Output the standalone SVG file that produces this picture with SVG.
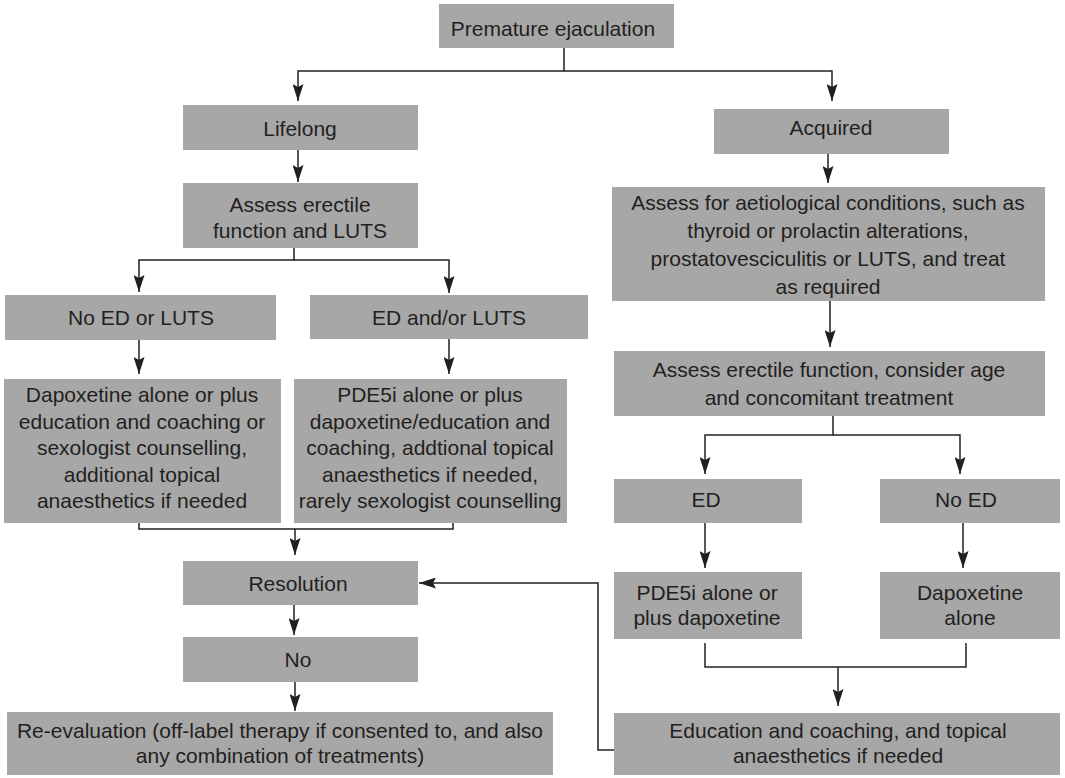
<svg xmlns="http://www.w3.org/2000/svg" width="1065" height="778" viewBox="0 0 1065 778">
  <style>
    .box { fill: #a7a7a7; stroke: none; }
    .lbl { font-family: "Liberation Sans", Arial, sans-serif; font-size: 21px; fill: #231f20; text-anchor: middle; }
    .edge { fill: none; stroke: #231f20; stroke-width: 1.5; }
  </style>
  <defs>
    <marker id="arrow" viewBox="0 0 17 11" refX="17" refY="5.5" markerWidth="17" markerHeight="11" markerUnits="userSpaceOnUse" orient="auto">
      <path d="M17,5.5 L0,0 L3,5.5 L0,11 Z" fill="#231f20"/>
    </marker>
  </defs>
  <rect width="1065" height="778" fill="#ffffff"/>

  <!-- connectors -->
  <g id="connectors">
    <path class="edge" d="M564,48 V71 H298 V101" marker-end="url(#arrow)"/>
    <path class="edge" d="M564,71 H832 V101" marker-end="url(#arrow)"/>
    <path class="edge" d="M298,150 V182" marker-end="url(#arrow)"/>
    <path class="edge" d="M294,248 V260 H139 V292" marker-end="url(#arrow)"/>
    <path class="edge" d="M294,260 H449 V293" marker-end="url(#arrow)"/>
    <path class="edge" d="M139,340 V374" marker-end="url(#arrow)"/>
    <path class="edge" d="M449,339 V374" marker-end="url(#arrow)"/>
    <path class="edge" d="M139,523 V529 H453 V523"/>
    <path class="edge" d="M295,529 V555" marker-end="url(#arrow)"/>
    <path class="edge" d="M294,605 V635" marker-end="url(#arrow)"/>
    <path class="edge" d="M295,682 V711" marker-end="url(#arrow)"/>
    <path class="edge" d="M828,154 V183" marker-end="url(#arrow)"/>
    <path class="edge" d="M830,301 V347" marker-end="url(#arrow)"/>
    <path class="edge" d="M833,416 V435 H705 V474" marker-end="url(#arrow)"/>
    <path class="edge" d="M833,435 H960 V474" marker-end="url(#arrow)"/>
    <path class="edge" d="M705,523 V568" marker-end="url(#arrow)"/>
    <path class="edge" d="M963,523 V568" marker-end="url(#arrow)"/>
    <path class="edge" d="M705,643 V667 H966 V643"/>
    <path class="edge" d="M838,667 V706" marker-end="url(#arrow)"/>
    <path class="edge" d="M614,750 H598 V583 H419" marker-end="url(#arrow)"/>
  </g>

  <!-- nodes -->
  <g id="premature">
    <rect class="box" x="439" y="4" width="235" height="44"/>
    <text class="lbl" x="553" y="36">Premature ejaculation</text>
  </g>
  <g id="lifelong">
    <rect class="box" x="183" y="105" width="235" height="45"/>
    <text class="lbl" x="300" y="136">Lifelong</text>
  </g>
  <g id="acquired">
    <rect class="box" x="714" y="109" width="235" height="45"/>
    <text class="lbl" x="831" y="135">Acquired</text>
  </g>
  <g id="assess-ef-luts">
    <rect class="box" x="183" y="183" width="235" height="65"/>
    <text class="lbl" x="300" y="212">Assess erectile</text>
    <text class="lbl" x="300" y="238">function and LUTS</text>
  </g>
  <g id="assess-aetiology">
    <rect class="box" x="612" y="187" width="433" height="114"/>
    <text class="lbl" x="828" y="210">Assess for aetiological conditions, such as</text>
    <text class="lbl" x="828" y="238">thyroid or prolactin alterations,</text>
    <text class="lbl" x="828" y="266">prostatovesciculitis or LUTS, and treat</text>
    <text class="lbl" x="828" y="294">as required</text>
  </g>
  <g id="no-ed-luts">
    <rect class="box" x="5" y="295" width="271" height="45"/>
    <text class="lbl" x="141" y="325">No ED or LUTS</text>
  </g>
  <g id="ed-luts">
    <rect class="box" x="310" y="295" width="278" height="44"/>
    <text class="lbl" x="449" y="325">ED and/or LUTS</text>
  </g>
  <g id="assess-ef-age">
    <rect class="box" x="614" y="351" width="431" height="65"/>
    <text class="lbl" x="829" y="377">Assess erectile function, consider age</text>
    <text class="lbl" x="829" y="405">and concomitant treatment</text>
  </g>
  <g id="dapoxetine-lifelong">
    <rect class="box" x="4" y="379" width="277" height="144"/>
    <text class="lbl" x="142" y="402">Dapoxetine alone or plus</text>
    <text class="lbl" x="142" y="428.5">education and coaching or</text>
    <text class="lbl" x="142" y="455">sexologist counselling,</text>
    <text class="lbl" x="142" y="481.5">additional topical</text>
    <text class="lbl" x="142" y="508">anaesthetics if needed</text>
  </g>
  <g id="pde5i-lifelong">
    <rect class="box" x="294" y="379" width="273" height="144"/>
    <text class="lbl" x="430" y="402">PDE5i alone or plus</text>
    <text class="lbl" x="430" y="428.5">dapoxetine/education and</text>
    <text class="lbl" x="430" y="455">coaching, addtional topical</text>
    <text class="lbl" x="430" y="481.5">anaesthetics if needed,</text>
    <text class="lbl" x="430" y="508">rarely sexologist counselling</text>
  </g>
  <g id="ed">
    <rect class="box" x="614" y="479" width="188" height="44"/>
    <text class="lbl" x="706" y="507">ED</text>
  </g>
  <g id="no-ed">
    <rect class="box" x="880" y="479" width="180" height="44"/>
    <text class="lbl" x="966" y="507">No ED</text>
  </g>
  <g id="resolution">
    <rect class="box" x="183" y="561" width="235" height="44"/>
    <text class="lbl" x="298" y="591">Resolution</text>
  </g>
  <g id="pde5i-acquired">
    <rect class="box" x="614" y="572" width="188" height="67"/>
    <text class="lbl" x="707" y="600">PDE5i alone or</text>
    <text class="lbl" x="707" y="625">plus dapoxetine</text>
  </g>
  <g id="dapoxetine-acquired">
    <rect class="box" x="880" y="572" width="180" height="67"/>
    <text class="lbl" x="970" y="600">Dapoxetine</text>
    <text class="lbl" x="970" y="625">alone</text>
  </g>
  <g id="no">
    <rect class="box" x="183" y="637" width="235" height="45"/>
    <text class="lbl" x="298" y="667">No</text>
  </g>
  <g id="re-evaluation">
    <rect class="box" x="7" y="712" width="546" height="63"/>
    <text class="lbl" x="280" y="738">Re-evaluation (off-label therapy if consented to, and also</text>
    <text class="lbl" x="280" y="763">any combination of treatments)</text>
  </g>
  <g id="education">
    <rect class="box" x="614" y="713" width="446" height="62"/>
    <text class="lbl" x="838" y="738">Education and coaching, and topical</text>
    <text class="lbl" x="838" y="763">anaesthetics if needed</text>
  </g>
</svg>
